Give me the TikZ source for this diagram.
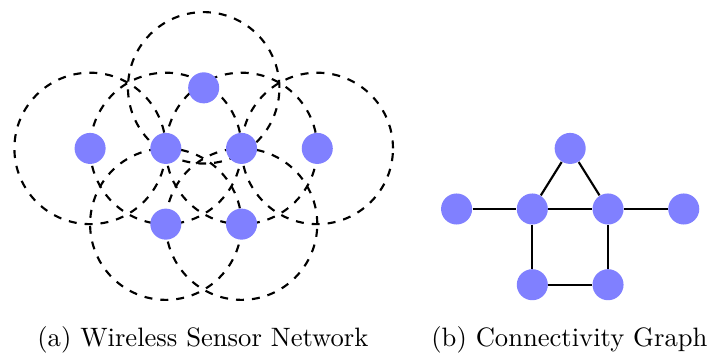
\documentclass[tikz,border=0pt]{standalone}
\usepackage{amsmath}

\begin{document}
\begin{tikzpicture}[auto,
    sensor/.style ={circle, fill=blue!50, minimum size=0.41cm, inner sep=0pt},
    rangecircle/.style ={dashed, thick}]
   \useasboundingbox (-1.19,-2.71) rectangle (8.2,1.96);

   % sensing ranges
   \foreach \p in {(0,0),(1,0),(2,0),(3,0),(1.5,0.8),(1,-1),(2,-1)}
      \draw[rangecircle] \p circle (1cm);

   % (a) wireless sensor network
   \node[sensor] (A) at (0,0)  {};
   \node[sensor] (B) at (1,0)  {};
   \node[sensor] (C) at (2,0)  {};
   \node[sensor] (D) at (3,0)  {};
   \node[sensor] (E) at (1.5,0.8)  {};
   \node[sensor] (F) at (1,-1)  {};
   \node[sensor] (G) at (2,-1)  {};

   % (b) connectivity graph
   \node[sensor] (A2) at (4.84,-0.8)  {};
   \node[sensor] (B2) at (5.84,-0.8)  {};
   \node[sensor] (C2) at (6.84,-0.8)  {};
   \node[sensor] (D2) at (7.84,-0.8)  {};
   \node[sensor] (E2) at (6.34,0)  {};
   \node[sensor] (F2) at (5.84,-1.8)  {};
   \node[sensor] (G2) at (6.84,-1.8)  {};

   \draw[thick] (A2) to  (B2);
   \draw[thick] (B2) to  (C2);
   \draw[thick] (C2) to  (D2);
   \draw[thick] (B2) to  (E2);
   \draw[thick] (E2) to  (C2);
   \draw[thick] (B2) to  (F2);
   \draw[thick] (C2) to  (G2);
   \draw[thick] (F2) to  (G2);

   \node[anchor=base] (capA) at (1.49,-2.61) {(a) Wireless Sensor Network};
   \node[anchor=base] (capB) at (6.33,-2.61) {(b) Connectivity Graph};
 \end{tikzpicture}
\end{document}
